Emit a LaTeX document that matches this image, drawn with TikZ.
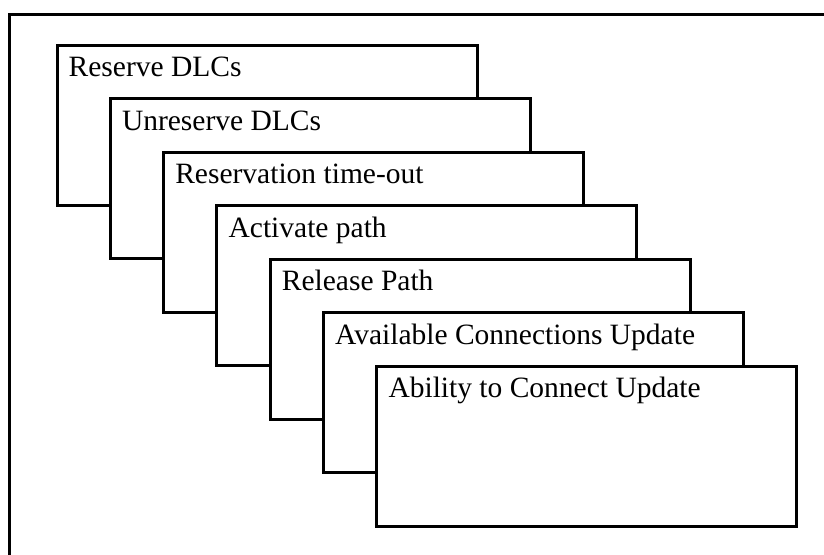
\documentclass[tikz,border=0pt]{standalone}
\usepackage{fontspec}
\setmainfont{Liberation Serif}
\usetikzlibrary{positioning}
\tikzstyle{card} = [rectangle, draw=black, line width=3pt, fill=white, minimum width=420pt, minimum height=160pt, inner sep=0pt]
\tikzstyle{caption} = [anchor=base west, inner sep=0pt, font=\fontsize{29.5pt}{34pt}\selectfont]

\begin{document}
\begin{tikzpicture}[x=1pt, y=-1pt, node distance=53.5pt]
	\useasboundingbox (0,0) rectangle (824,554);
	% frame, cut off at right and bottom
	\draw [line width=3pt] (9,14) rectangle (850,580);

	\node (reserve) [card] at (267,125) {};
	\node (reservetxt) [caption] at ([shift={(13pt,-33pt)}]reserve.north west) {Reserve DLCs};

	\node (unreserve) [card, below of=reserve, xshift=53.3pt] {};
	\node (unreservetxt) [caption] at ([shift={(13pt,-33pt)}]unreserve.north west) {Unreserve DLCs};

	\node (timeout) [card, below of=unreserve, xshift=53.3pt] {};
	\node (timeouttxt) [caption] at ([shift={(13pt,-33pt)}]timeout.north west) {Reservation time-out};

	\node (activate) [card, below of=timeout, xshift=53.3pt] {};
	\node (activatetxt) [caption] at ([shift={(13pt,-33pt)}]activate.north west) {Activate path};

	\node (release) [card, below of=activate, xshift=53.3pt] {};
	\node (releasetxt) [caption] at ([shift={(13pt,-33pt)}]release.north west) {Release Path};

	\node (available) [card, below of=release, xshift=53.3pt] {};
	\node (availabletxt) [caption] at ([shift={(13pt,-33pt)}]available.north west) {Available Connections Update};

	\node (ability) [card, below of=available, xshift=53.3pt] {};
	\node (abilitytxt) [caption] at ([shift={(13pt,-33pt)}]ability.north west) {Ability to Connect Update};
\end{tikzpicture}
\end{document}
